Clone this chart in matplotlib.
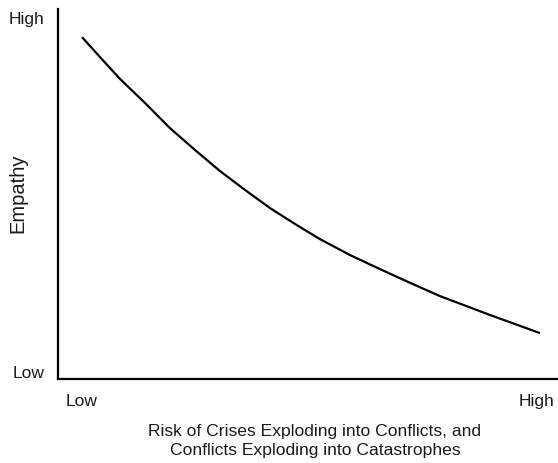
import matplotlib
matplotlib.use("Agg")
import matplotlib.pyplot as plt

plt.rcParams['font.family'] = ['Liberation Sans', 'DejaVu Sans']

# Curve values (risk on x, empathy on y), scale 0-10
risk = [0.48, 0.84, 1.24, 1.74, 2.24, 2.74, 3.24, 3.74, 4.24, 4.74,
        5.24, 5.84, 6.44, 7.04, 7.64, 8.64, 9.64]
empathy = [9.24, 8.70, 8.11, 7.46, 6.78, 6.19, 5.62, 5.11, 4.62, 4.19,
           3.78, 3.35, 2.97, 2.60, 2.24, 1.73, 1.24]

x_tick_pos = [0.48, 9.58]
x_tick_labels = ["Low", "High"]
y_tick_pos = [0.22, 9.78]
y_tick_labels = ["Low", "High"]

W, H = 558, 464
fig = plt.figure(figsize=(W / 100, H / 100), dpi=100)
left, right, bottom, top = 58, 558, 380, 10
ax = fig.add_axes([left / W, 1 - bottom / H, (right - left) / W, (bottom - top) / H])

ax.plot(risk, empathy, color="black", linewidth=1.6, solid_capstyle="butt")
ax.set_xlim(0, 10)
ax.set_ylim(0, 10)

for s in ["top", "right"]:
    ax.spines[s].set_visible(False)
for s in ["left", "bottom"]:
    ax.spines[s].set_linewidth(1.6)
    ax.spines[s].set_color("black")

ax.set_xticks(x_tick_pos)
ax.set_xticklabels(x_tick_labels, fontsize=12.5, color="#1a1a1a")
ax.set_yticks(y_tick_pos)
ax.set_yticklabels(y_tick_labels, fontsize=12.5, color="#1a1a1a")
ax.tick_params(axis="x", length=0, pad=10)
ax.tick_params(axis="y", length=0, pad=10)

ax.set_xlabel("Risk of Crises Exploding into Conflicts, and\nConflicts Exploding into Catastrophes",
              fontsize=12.6, linespacing=1.3, color="#1a1a1a")
ax.xaxis.set_label_coords((315 - left) / (right - left), -(424 - bottom) / (bottom - top))
ax.set_ylabel("Empathy", fontsize=14.5, color="#1a1a1a")
ax.yaxis.set_label_coords(-(left - 27) / (right - left), (bottom - 193) / (bottom - top))

fig.savefig("out.png", dpi=100)
